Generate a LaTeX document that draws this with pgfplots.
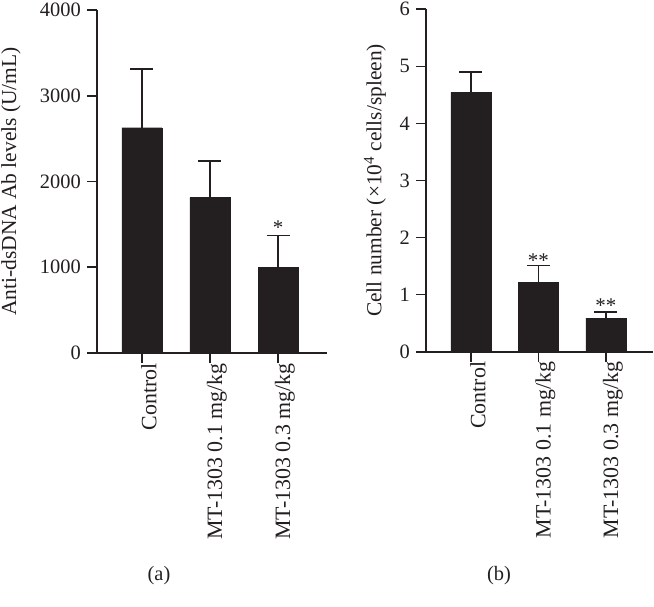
\documentclass[border=0pt]{standalone}
\usepackage{pgfplots}
\pgfplotsset{compat=1.18}
\usepackage{fontspec}
\setmainfont{Liberation Serif}
\definecolor{barc}{HTML}{231F20}

\begin{document}
\begin{tikzpicture}
\useasboundingbox (0bp,0bp) rectangle (654bp,607bp);
\pgfplotsset{
  mystyle/.style={
    scale only axis,
    axis x line*=bottom, axis y line*=left,
    axis line style={line width=1.7bp, color=barc, -},
    every tick/.style={line width=1.7bp, color=barc},
    major tick length=10bp,
    tick align=outside,
    xtick={0,1,2},
    xticklabels={Control, MT-1303 0.1 mg/kg, MT-1303 0.3 mg/kg},
    xticklabel style={rotate=90, anchor=east, font=\fontsize{22}{24}\selectfont, inner sep=0pt, yshift=-7bp, color=barc},
    yticklabel style={font=\fontsize{20.5}{24}\selectfont, inner sep=0pt, xshift=-6bp, color=barc},
    /pgf/number format/assume math mode=true,
    /pgf/number format/1000 sep={},
    ymin=0,
    ybar, bar shift=0pt,
  },
  mybars/.style={
    fill=barc, draw=barc, bar width=40bp,
    error bars/.cd, y dir=plus, y explicit,
    error bar style={line width=1.7bp, color=barc},
    error mark options={rotate=90, line width=1.7bp, mark size=11.5bp, color=barc},
  }
}
\begin{axis}[mystyle,
  at={(97bp,254bp)}, anchor=south west,
  width=230bp, height=343bp,
  xmin=-0.66, xmax=2.72,
  ymax=4000, ytick={0,1000,2000,3000,4000},
  ylabel={Anti-dsDNA Ab levels (U/mL)},
  every axis y label/.style={at={(axis description cs:-0.374,0.5)}, rotate=90, anchor=center, font=\fontsize{21.5}{24}\selectfont, color=barc},
]
\addplot[mybars] coordinates {(0,2627) +- (0,681) (1,1816) +- (0,419) (2,999) +- (0,373)};
\node[font=\fontsize{21}{21}\selectfont, color=barc] at (axis cs:2,1460) {*};
\end{axis}
\begin{axis}[mystyle,
  at={(426bp,255.3bp)}, anchor=south west,
  width=227bp, height=342.4bp,
  xmin=-0.667, xmax=2.70,
  ymax=6, ytick={0,1,2,3,4,5,6},
  ylabel={Cell number (×10\textsuperscript{4} cells/spleen)},
  every axis y label/.style={at={(axis description cs:-0.225,0.5)}, rotate=90, anchor=center, font=\fontsize{21.5}{24}\selectfont, color=barc},
]
\addplot[mybars] coordinates {(0,4.545) +- (0,0.355) (1,1.21) +- (0,0.30) (2,0.59) +- (0,0.11)};
\node[font=\fontsize{21}{21}\selectfont, color=barc] at (axis cs:1,1.60) {**};
\node[font=\fontsize{21}{21}\selectfont, color=barc] at (axis cs:2,0.81) {**};
\end{axis}
\node[font=\fontsize{20.5}{24}\selectfont, color=barc] at (159bp,31bp) {(a)};
\node[font=\fontsize{20.5}{24}\selectfont, color=barc] at (499bp,31bp) {(b)};
\end{tikzpicture}
\end{document}
